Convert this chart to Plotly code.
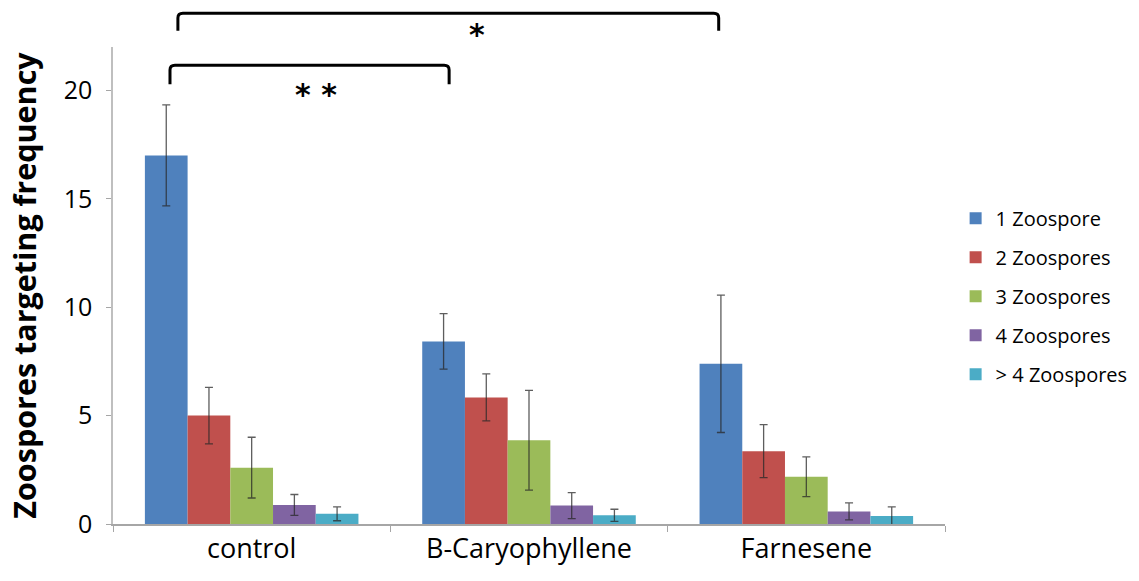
import plotly.graph_objects as go

categories = ["control", "B-Caryophyllene", "Farnesene"]
series_names = ["1 Zoospore", "2 Zoospores", "3 Zoospores", "4 Zoospores", "> 4 Zoospores"]
one_zoospore = [17.0, 8.42, 7.39]
one_err = [2.33, 1.28, 3.17]
two_zoospores = [5.0, 5.84, 3.36]
two_err = [1.3, 1.08, 1.22]
three_zoospores = [2.6, 3.86, 2.18]
three_err = [1.4, 2.3, 0.92]
four_zoospores = [0.88, 0.85, 0.58]
four_err = [0.48, 0.6, 0.39]
more_zoospores = [0.47, 0.40, 0.37]
more_err = [0.32, 0.28, 0.42]
y_ticks = [0, 5, 10, 15, 20]

values = [one_zoospore, two_zoospores, three_zoospores, four_zoospores, more_zoospores]
errors = [one_err, two_err, three_err, four_err, more_err]
colors = ["#4F81BD", "#C0504D", "#9BBB59", "#8064A2", "#4BACC6"]

FONT = "Open Sans"

fig = go.Figure()
for name, vals, errs, col in zip(series_names, values, errors, colors):
    fig.add_trace(go.Bar(
        x=categories, y=vals, name=name, legendgroup=name,
        marker=dict(color=col, line=dict(width=0)),
        error_y=dict(type="data", array=errs, visible=True,
                     color="rgba(40,40,40,0.75)", thickness=1.3, width=4),
    ))

fig.update_layout(
    width=1139, height=581,
    barmode="group", bargap=0.23, bargroupgap=0,
    plot_bgcolor="white", paper_bgcolor="white",
    margin=dict(l=113, r=194, t=47, b=57, autoexpand=False),
    font=dict(family=FONT, color="#000000"),
    legend=dict(x=0.839, y=0.658, xref="container", yref="container",
                xanchor="left", yanchor="top",
                font=dict(size=20, family=FONT), tracegroupgap=10,
                itemwidth=30, bgcolor="rgba(0,0,0,0)"),
    showlegend=True,
)
fig.update_xaxes(
    type="category", range=[-0.5, 2.5],
    showline=True, linecolor="#a6a6a6", linewidth=1.5,
    ticks="outside", tickson="boundaries", ticklen=6, tickcolor="#a6a6a6",
    tickfont=dict(size=27, family=FONT), showgrid=False,
)
fig.update_yaxes(
    range=[0, 22], tickvals=y_ticks,
    showline=True, linecolor="#bfbfbf", linewidth=1.5,
    ticks="outside", ticklen=5, tickcolor="#a6a6a6", ticklabelstandoff=9,
    tickfont=dict(size=25, family=FONT), showgrid=False, zeroline=False,
    title=dict(text="<b>Zoospores targeting frequency</b>", font=dict(size=30.5, family=FONT), standoff=18),
)

# significance brackets (paper coordinates, above plot area)
def bracket(x0, x1, ytop, ybot):
    r = 0.006
    path = (f"M {x0},{ybot} L {x0},{ytop - 0.01} Q {x0},{ytop} {x0 + r},{ytop} "
            f"L {x1 - r},{ytop} Q {x1},{ytop} {x1},{ytop - 0.01} L {x1},{ybot}")
    fig.add_shape(type="path", path=path, xref="paper", yref="paper",
                  line=dict(color="black", width=3))

bracket(0.078, 0.728, 1.071, 1.034)
bracket(0.0685, 0.404, 0.962, 0.922)
fig.add_annotation(x=0.438, y=1.067, xref="paper", yref="paper", text="<b>*</b>",
                   showarrow=False, font=dict(size=30, family="DejaVu Sans", color="black"))
fig.add_annotation(x=0.2166, y=0.941, xref="paper", yref="paper", text="<b>* *</b>",
                   showarrow=False, font=dict(size=30, family="DejaVu Sans", color="black"))

fig.write_html("out.html")
